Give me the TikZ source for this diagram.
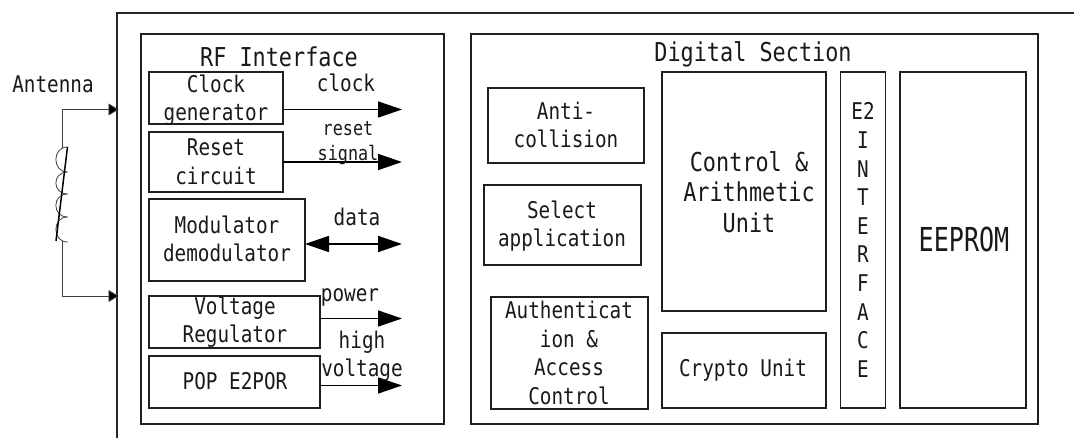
\documentclass[tikz,border=0pt]{standalone}
\usepackage{fontspec}
\newfontfamily\gothic[FakeStretch=0.84]{DejaVu Sans Mono}
\newfontfamily\gothicnarrow[FakeStretch=0.76]{DejaVu Sans Mono}
\usetikzlibrary{arrows.meta}
\tikzset{
  boxn/.style={draw=black!88,line width=1.5pt,anchor=north west,inner sep=0pt,outer sep=0pt},
  txt/.style={inner sep=0pt,outer sep=0pt,align=center,text=black!90,font=\gothic\fontsize{23}{28.5}\selectfont},
  title/.style={txt,font=\gothic\fontsize{26}{30}\selectfont},
  small/.style={txt,font=\gothic\fontsize{20}{25}\selectfont},
  mid/.style={txt,font=\gothic\fontsize{26}{30.5}\selectfont},
  big/.style={txt,font=\gothicnarrow\fontsize{33}{36}\selectfont},
  bigarrow/.style={line width=1.6pt,black,-{Triangle[length=24pt,width=16pt]}},
  bothways/.style={line width=1.6pt,black,{Triangle[length=24pt,width=16pt]}-{Triangle[length=24pt,width=16pt]}},
  feed/.style={line width=.8pt,black!75,-{Triangle[length=10pt,width=12pt,fill=black]}},
  wire/.style={line width=.8pt,black!75},
  frame/.style={line width=1.7pt,black!85}
}
\begin{document}
\begin{tikzpicture}[x=1pt,y=-1pt]
\useasboundingbox (0,0) rectangle (1074,438);
% outer frame (open on the right and at the bottom)
\coordinate (fb) at (117,438);
\coordinate (fc) at (117,13);
\coordinate (fr) at (1074,13);
% main sections
\node[boxn,minimum width=303pt,minimum height=390pt] (rf) at (141,34) {};
\node[boxn,minimum width=567pt,minimum height=390pt] (dig) at (471,34) {};
\node[title] (rft) at (279,57) {RF Interface};
\node[title] (digt) at (753,54) {Digital Section};
% RF blocks
\node[boxn,minimum width=134pt,minimum height=52pt] (clk) at (149,72) {};
\node[boxn,minimum width=134pt,minimum height=60pt] (rst) at (149,132) {};
\node[boxn,minimum width=156pt,minimum height=82pt] (mod) at (149,199) {};
\node[boxn,minimum width=171pt,minimum height=52pt] (vr) at (149,296) {};
\node[boxn,minimum width=171pt,minimum height=52pt] (pop) at (149,356) {};
\node[txt] (clkt) at (216,100) {Clock\\generator};
\node[txt] (rstt) at (216,162) {Reset\\circuit};
\node[txt] (modt) at (227,239) {Modulator\\demodulator};
\node[txt] (vrt) at (235,322) {Voltage\\Regulator};
\node[txt] (popt) at (235,381) {POP E2POR};
% RF outputs
\coordinate (oc) at (402,109.5);
\coordinate (orr) at (402,162);
\coordinate (od) at (402,244);
\coordinate (op) at (402,318.5);
\coordinate (oh) at (402,385.5);
\draw[bigarrow] (clk.east |- oc) -- (oc);
\draw[bigarrow] (rst.east |- orr) -- (orr);
\draw[bothways] (mod.east |- od) -- (od);
\draw[bigarrow] (vr.east |- op) -- (op);
\draw[bigarrow] (pop.east |- oh) -- (oh);
\node[txt] (lclk) at (346,83) {clock};
\node[small] (lrst) at (348,143) {reset\\signal};
\node[txt] (ldat) at (357,217) {data};
\node[txt] (lpow) at (350,297) {power};
\node[txt] (lhv) at (362,356) {high\\voltage};
% Digital blocks
\node[boxn,minimum width=156pt,minimum height=75pt] (anti) at (488,88) {};
\node[boxn,minimum width=157pt,minimum height=80pt] (sel) at (484,185) {};
\node[boxn,minimum width=157pt,minimum height=112pt] (auth) at (491,297) {};
\node[boxn,minimum width=164pt,minimum height=239pt] (ctl) at (662,72) {};
\node[boxn,minimum width=164pt,minimum height=75pt] (cry) at (662,333) {};
\node[boxn,minimum width=45pt,minimum height=336pt] (e2) at (840.5,72) {};
\node[boxn,minimum width=126pt,minimum height=336pt] (ee) at (900,72) {};
\node[txt] (antit) at (566,125) {Anti-\\collision};
\node[txt] (selt) at (562,226) {Select\\application};
\node[txt] (autht) at (569,353) {Authenticat\\ion \&\\Access\\Control};
\node[mid] (ctlt) at (749,192) {Control \&\\Arithmetic\\Unit};
\node[txt] (cryt) at (743,370) {Crypto Unit};
\node[txt,font=\gothic\fontsize{23}{28.6}\selectfont] (e2t) at (863,240) {E2\\I\\N\\T\\E\\R\\F\\A\\C\\E};
\node[big] (eet) at (964,239) {EEPROM};
% Antenna
\node[txt] (ant) at (53,84) {Antenna};
\coordinate (ta) at (118.5,109.5);
\coordinate (tb) at (118.5,296);
\coordinate (ca) at (62,109.5);
\coordinate (cb) at (62,296);
\coordinate (c0) at (67.5,147);
\coordinate (c1) at (67.5,172);
\coordinate (c2) at (67.5,194);
\coordinate (c3) at (67.5,217);
\coordinate (c4) at (67.5,242);
\coordinate (ct) at (62,148);
\coordinate (cu) at (62,241);
\draw[feed] (ct) -- (ca) -- (ta);
\draw[feed] (cu) -- (cb) -- (tb);
\draw[frame] (fb) -- (fc) -- (fr);
\draw[wire] (c0) .. controls (52,147) and (52,172) .. (c1);
\draw[wire] (c1) .. controls (52,172) and (52,194) .. (c2);
\draw[wire] (c2) .. controls (52,194) and (52,217) .. (c3);
\draw[wire] (c3) .. controls (52,217) and (52,242) .. (c4);
\coordinate (k0) at (67.5,147);
\coordinate (k1) at (56,241);
\draw[line width=1.5pt,black] (k0) -- (k1);
\end{tikzpicture}
\end{document}
